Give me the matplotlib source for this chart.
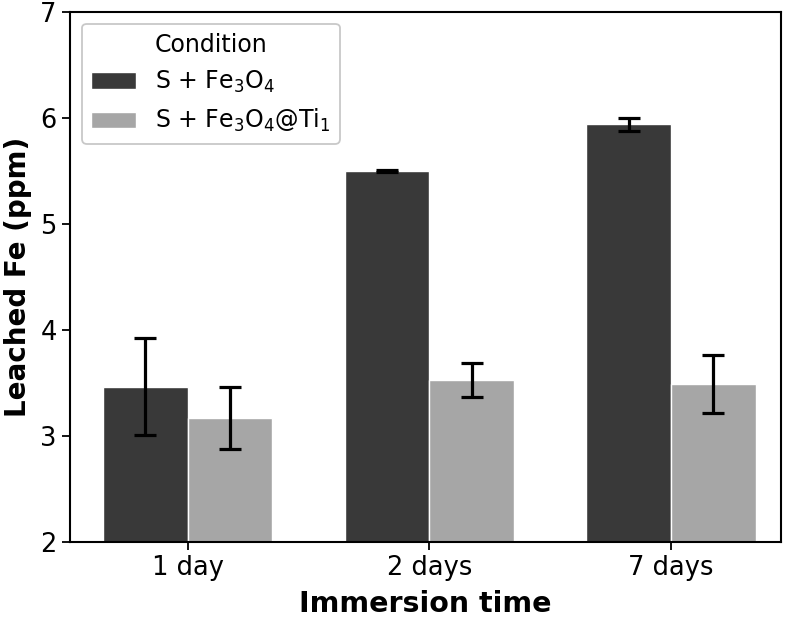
import numpy as np
import matplotlib
matplotlib.use("Agg")
import matplotlib.pyplot as plt

# data
days = ["1 day", "2 days", "7 days"]
fe3o4 = [3.465, 5.50, 5.94]
fe3o4_err = [0.455, 0.006, 0.06]
fe3o4_ti = [3.17, 3.53, 3.49]
fe3o4_ti_err = [0.29, 0.16, 0.27]
labels = ["S + Fe$_3$O$_4$", "S + Fe$_3$O$_4$@Ti$_1$"]
colors = ["#393939", "#a6a6a6"]

plt.rcParams['font.family'] = ['DejaVu Sans']

fig = plt.figure(figsize=(7.93, 6.17), dpi=100)
ax = fig.add_axes([0.0883, 0.1216, 0.8966, 0.859])

x = np.arange(len(days))
w = 0.35
err_kw = dict(ecolor="black", elinewidth=2.3, capsize=8, capthick=2.3)
ax.bar(x - w / 2, fe3o4, w, yerr=fe3o4_err, color=colors[0], edgecolor="white",
       linewidth=1, label=labels[0], error_kw=err_kw)
ax.bar(x + w / 2, fe3o4_ti, w, yerr=fe3o4_ti_err, color=colors[1], edgecolor="white",
       linewidth=1, label=labels[1], error_kw=err_kw)

ax.set_xlim(-0.487, 2.455)
ax.set_ylim(2, 7)
ax.set_xticks(x)
ax.set_xticklabels(days)
ax.set_yticks([2, 3, 4, 5, 6, 7])
ax.tick_params(labelsize=18.5, width=1.3, length=6)
for s in ax.spines.values():
    s.set_linewidth(1.5)

ax.set_xlabel("Immersion time", fontsize=20.5, fontweight="bold", labelpad=6)
ax.set_ylabel("Leached Fe (ppm)", fontsize=20, fontweight="bold", labelpad=6)

leg = ax.legend(title="Condition", fontsize=17, title_fontsize=17, loc="upper left",
                frameon=True, edgecolor="#bbbbbb", handlelength=1.9,
                borderaxespad=0.5)
leg.get_frame().set_linewidth(1.3)

fig.savefig("out.png", dpi=100)
